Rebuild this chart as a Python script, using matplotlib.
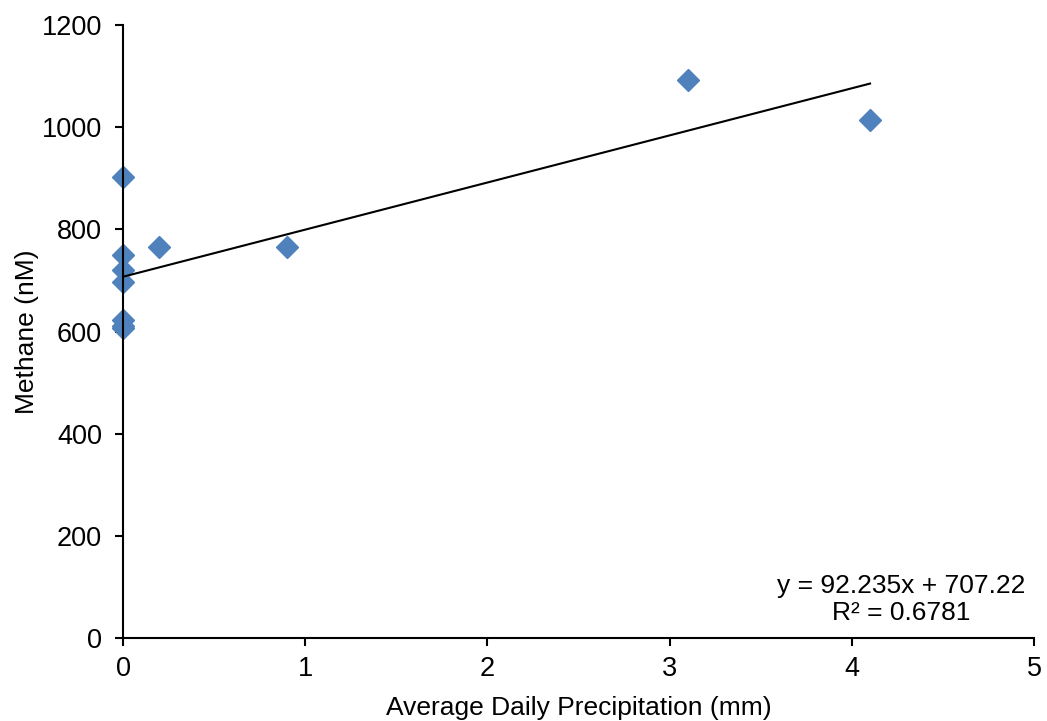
import matplotlib
matplotlib.use("Agg")
import matplotlib.pyplot as plt
import numpy as np

plt.rcParams['font.family'] = ['Liberation Sans', 'DejaVu Sans']

precip = [0, 0, 0, 0, 0, 0, 0, 0.2, 0.9, 3.1, 4.1]
methane = [903, 749, 720, 697, 622, 610, 606, 766, 766, 1093, 1015]
slope = 92.235
intercept = 707.22
r2 = 0.6781
xticks = [0, 1, 2, 3, 4, 5]
yticks = [0, 200, 400, 600, 800, 1000, 1200]

fig = plt.figure(figsize=(10.47, 7.21), dpi=100)
ax = fig.add_axes([0.1175, 0.1151, 0.8701, 0.8502])

xs = np.array([min(precip), max(precip)])
ax.plot(xs, intercept + slope * xs, color='black', lw=1.5, zorder=3, clip_on=False)
ax.plot(precip, methane, linestyle='none', marker='D', markersize=11,
        color='#4F81BD', markeredgecolor='#4F81BD', zorder=2, clip_on=False)

ax.set_xlim(0, 5)
ax.set_ylim(0, 1200)
ax.set_xticks(xticks)
ax.set_yticks(yticks)
for s in ['top', 'right']:
    ax.spines[s].set_visible(False)
for s in ['left', 'bottom']:
    ax.spines[s].set_linewidth(1.5)
ax.tick_params(direction='out', length=6, width=1.5, labelsize=19.5)
ax.tick_params(axis='y', pad=9)
ax.tick_params(axis='x', pad=7)
ax.set_xlabel('Average Daily Precipitation (mm)', fontsize=19, labelpad=10)
ax.set_ylabel('Methane (nM)', fontsize=19, labelpad=2)

ax.text(4.27, 76, f'y = {slope}x + {intercept}\nR² = {r2}', ha='center', va='center',
        multialignment='center', fontsize=19, linespacing=1.15)

fig.savefig('out.png', dpi=100)
